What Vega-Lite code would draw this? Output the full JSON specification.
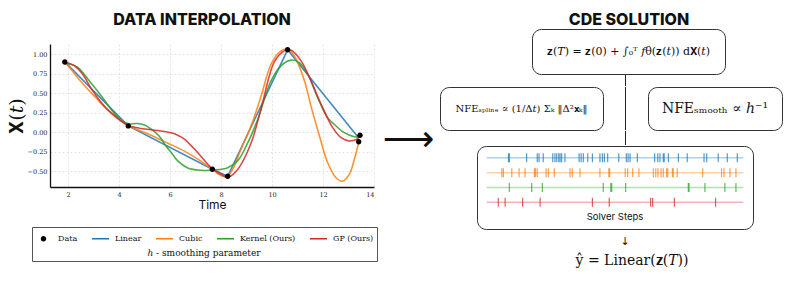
{
  "$schema": "https://vega.github.io/schema/vega-lite/v6.json",
  "background": "white",
  "padding": {"left": 7, "top": 11, "right": 0, "bottom": 0},
  "spacing": 0,
  "config": {"view": {"stroke": null}, "font": "Inter"},
  "resolve": {"scale": {"color": "independent", "shape": "independent"}, "legend": {"color": "independent", "shape": "independent"}},
  "datasets": {
    "linear": [
      {"series": "Linear", "t": 1.87, "X": 0.9},
      {"series": "Linear", "t": 4.36, "X": 0.079},
      {"series": "Linear", "t": 7.66, "X": -0.478},
      {"series": "Linear", "t": 8.26, "X": -0.568},
      {"series": "Linear", "t": 10.61, "X": 1.055},
      {"series": "Linear", "t": 13.4, "X": -0.075}
    ],
    "cubic": [
      {"series": "Cubic", "t": 1.87, "X": 0.9},
      {"series": "Cubic", "t": 2.2, "X": 0.77},
      {"series": "Cubic", "t": 2.5, "X": 0.65},
      {"series": "Cubic", "t": 3.09, "X": 0.44},
      {"series": "Cubic", "t": 3.5, "X": 0.3},
      {"series": "Cubic", "t": 3.87, "X": 0.207},
      {"series": "Cubic", "t": 4.36, "X": 0.079},
      {"series": "Cubic", "t": 4.8, "X": 0.02},
      {"series": "Cubic", "t": 5.25, "X": -0.04},
      {"series": "Cubic", "t": 5.9, "X": -0.14},
      {"series": "Cubic", "t": 6.56, "X": -0.245},
      {"series": "Cubic", "t": 7.1, "X": -0.35},
      {"series": "Cubic", "t": 7.66, "X": -0.478},
      {"series": "Cubic", "t": 7.95, "X": -0.55},
      {"series": "Cubic", "t": 8.15, "X": -0.575},
      {"series": "Cubic", "t": 8.26, "X": -0.568},
      {"series": "Cubic", "t": 8.5, "X": -0.45},
      {"series": "Cubic", "t": 8.78, "X": -0.22},
      {"series": "Cubic", "t": 9.18, "X": 0.08},
      {"series": "Cubic", "t": 9.57, "X": 0.46},
      {"series": "Cubic", "t": 9.96, "X": 0.87},
      {"series": "Cubic", "t": 10.35, "X": 1.04},
      {"series": "Cubic", "t": 10.61, "X": 1.064},
      {"series": "Cubic", "t": 10.87, "X": 0.98},
      {"series": "Cubic", "t": 11.27, "X": 0.66},
      {"series": "Cubic", "t": 11.53, "X": 0.33},
      {"series": "Cubic", "t": 11.86, "X": -0.05},
      {"series": "Cubic", "t": 12.18, "X": -0.39},
      {"series": "Cubic", "t": 12.51, "X": -0.586},
      {"series": "Cubic", "t": 12.77, "X": -0.63},
      {"series": "Cubic", "t": 13.03, "X": -0.543},
      {"series": "Cubic", "t": 13.23, "X": -0.35},
      {"series": "Cubic", "t": 13.4, "X": -0.13}
    ],
    "kernel": [
      {"series": "Kernel (Ours)", "t": 1.87, "X": 0.88},
      {"series": "Kernel (Ours)", "t": 2.1, "X": 0.87},
      {"series": "Kernel (Ours)", "t": 2.38, "X": 0.83},
      {"series": "Kernel (Ours)", "t": 2.9, "X": 0.63},
      {"series": "Kernel (Ours)", "t": 3.29, "X": 0.47},
      {"series": "Kernel (Ours)", "t": 3.69, "X": 0.29},
      {"series": "Kernel (Ours)", "t": 4.08, "X": 0.15},
      {"series": "Kernel (Ours)", "t": 4.4, "X": 0.105},
      {"series": "Kernel (Ours)", "t": 4.7, "X": 0.11},
      {"series": "Kernel (Ours)", "t": 5.0, "X": 0.09},
      {"series": "Kernel (Ours)", "t": 5.25, "X": 0.04},
      {"series": "Kernel (Ours)", "t": 5.57, "X": -0.05},
      {"series": "Kernel (Ours)", "t": 5.84, "X": -0.18},
      {"series": "Kernel (Ours)", "t": 6.04, "X": -0.26},
      {"series": "Kernel (Ours)", "t": 6.3, "X": -0.37},
      {"series": "Kernel (Ours)", "t": 6.69, "X": -0.46},
      {"series": "Kernel (Ours)", "t": 7.22, "X": -0.49},
      {"series": "Kernel (Ours)", "t": 7.75, "X": -0.487},
      {"series": "Kernel (Ours)", "t": 8.26, "X": -0.457},
      {"series": "Kernel (Ours)", "t": 8.65, "X": -0.37},
      {"series": "Kernel (Ours)", "t": 9.05, "X": -0.136},
      {"series": "Kernel (Ours)", "t": 9.44, "X": 0.165},
      {"series": "Kernel (Ours)", "t": 9.96, "X": 0.657},
      {"series": "Kernel (Ours)", "t": 10.35, "X": 0.85},
      {"series": "Kernel (Ours)", "t": 10.75, "X": 0.923},
      {"series": "Kernel (Ours)", "t": 11.07, "X": 0.892},
      {"series": "Kernel (Ours)", "t": 11.4, "X": 0.743},
      {"series": "Kernel (Ours)", "t": 11.79, "X": 0.442},
      {"series": "Kernel (Ours)", "t": 12.18, "X": 0.185},
      {"series": "Kernel (Ours)", "t": 12.44, "X": 0.1},
      {"series": "Kernel (Ours)", "t": 12.83, "X": -0.008},
      {"series": "Kernel (Ours)", "t": 13.23, "X": -0.06},
      {"series": "Kernel (Ours)", "t": 13.4, "X": -0.065}
    ],
    "gp": [
      {"series": "GP (Ours)", "t": 1.87, "X": 0.9},
      {"series": "GP (Ours)", "t": 2.25, "X": 0.85},
      {"series": "GP (Ours)", "t": 2.6, "X": 0.73},
      {"series": "GP (Ours)", "t": 2.9, "X": 0.56},
      {"series": "GP (Ours)", "t": 3.3, "X": 0.38},
      {"series": "GP (Ours)", "t": 3.7, "X": 0.24},
      {"series": "GP (Ours)", "t": 4.0, "X": 0.16},
      {"series": "GP (Ours)", "t": 4.36, "X": 0.085},
      {"series": "GP (Ours)", "t": 4.8, "X": 0.05},
      {"series": "GP (Ours)", "t": 5.25, "X": 0.03},
      {"series": "GP (Ours)", "t": 5.7, "X": 0.01},
      {"series": "GP (Ours)", "t": 6.04, "X": -0.01},
      {"series": "GP (Ours)", "t": 6.3, "X": -0.04},
      {"series": "GP (Ours)", "t": 6.56, "X": -0.09},
      {"series": "GP (Ours)", "t": 7.09, "X": -0.265},
      {"series": "GP (Ours)", "t": 7.61, "X": -0.457},
      {"series": "GP (Ours)", "t": 8.07, "X": -0.555},
      {"series": "GP (Ours)", "t": 8.29, "X": -0.577},
      {"series": "GP (Ours)", "t": 8.65, "X": -0.48},
      {"series": "GP (Ours)", "t": 9.18, "X": -0.14},
      {"series": "GP (Ours)", "t": 9.57, "X": 0.3},
      {"series": "GP (Ours)", "t": 10.09, "X": 0.9},
      {"series": "GP (Ours)", "t": 10.48, "X": 1.042},
      {"series": "GP (Ours)", "t": 10.75, "X": 1.05},
      {"series": "GP (Ours)", "t": 11.14, "X": 0.914},
      {"series": "GP (Ours)", "t": 11.53, "X": 0.657},
      {"series": "GP (Ours)", "t": 11.92, "X": 0.36},
      {"series": "GP (Ours)", "t": 12.38, "X": 0.057},
      {"series": "GP (Ours)", "t": 12.71, "X": -0.072},
      {"series": "GP (Ours)", "t": 13.03, "X": -0.114},
      {"series": "GP (Ours)", "t": 13.23, "X": -0.105},
      {"series": "GP (Ours)", "t": 13.4, "X": -0.08}
    ],
    "points": [
      {"series": "Data", "t": 1.87, "X": 0.9},
      {"series": "Data", "t": 4.36, "X": 0.079},
      {"series": "Data", "t": 7.66, "X": -0.478},
      {"series": "Data", "t": 8.26, "X": -0.568},
      {"series": "Data", "t": 10.61, "X": 1.055},
      {"series": "Data", "t": 13.45, "X": -0.04},
      {"series": "Data", "t": 13.4, "X": -0.125}
    ],
    "spans": [
      {"method": "Linear", "start": 1.87, "end": 13.45},
      {"method": "Cubic", "start": 1.87, "end": 13.45},
      {"method": "Kernel (Ours)", "start": 1.87, "end": 13.45},
      {"method": "GP (Ours)", "start": 1.87, "end": 13.45}
    ],
    "steps": [
      {"method": "Linear", "t": 2.85}, {"method": "Linear", "t": 2.89}, {"method": "Linear", "t": 3.67}, {"method": "Linear", "t": 4.15},
      {"method": "Linear", "t": 4.23}, {"method": "Linear", "t": 4.42}, {"method": "Linear", "t": 4.85}, {"method": "Linear", "t": 4.95},
      {"method": "Linear", "t": 5.03}, {"method": "Linear", "t": 5.12}, {"method": "Linear", "t": 5.18}, {"method": "Linear", "t": 5.25},
      {"method": "Linear", "t": 5.4}, {"method": "Linear", "t": 6.04}, {"method": "Linear", "t": 6.13}, {"method": "Linear", "t": 6.23},
      {"method": "Linear", "t": 6.43}, {"method": "Linear", "t": 6.64}, {"method": "Linear", "t": 6.98}, {"method": "Linear", "t": 7.09},
      {"method": "Linear", "t": 7.18}, {"method": "Linear", "t": 7.33}, {"method": "Linear", "t": 7.83}, {"method": "Linear", "t": 8.17},
      {"method": "Linear", "t": 8.25}, {"method": "Linear", "t": 8.34}, {"method": "Linear", "t": 8.67}, {"method": "Linear", "t": 9.45},
      {"method": "Linear", "t": 9.59}, {"method": "Linear", "t": 9.69}, {"method": "Linear", "t": 9.84}, {"method": "Linear", "t": 9.88},
      {"method": "Linear", "t": 10.07}, {"method": "Linear", "t": 10.52}, {"method": "Linear", "t": 10.92}, {"method": "Linear", "t": 11.68},
      {"method": "Linear", "t": 11.8}, {"method": "Linear", "t": 12.32}, {"method": "Linear", "t": 12.73}, {"method": "Linear", "t": 13.18},
      {"method": "Cubic", "t": 2.55}, {"method": "Cubic", "t": 2.62}, {"method": "Cubic", "t": 3.0}, {"method": "Cubic", "t": 3.33},
      {"method": "Cubic", "t": 3.6}, {"method": "Cubic", "t": 4.02}, {"method": "Cubic", "t": 4.07}, {"method": "Cubic", "t": 4.15},
      {"method": "Cubic", "t": 4.55}, {"method": "Cubic", "t": 4.65}, {"method": "Cubic", "t": 4.92}, {"method": "Cubic", "t": 5.63},
      {"method": "Cubic", "t": 5.73}, {"method": "Cubic", "t": 6.08}, {"method": "Cubic", "t": 6.98}, {"method": "Cubic", "t": 7.38},
      {"method": "Cubic", "t": 7.42}, {"method": "Cubic", "t": 8.12}, {"method": "Cubic", "t": 8.23}, {"method": "Cubic", "t": 8.46},
      {"method": "Cubic", "t": 8.74}, {"method": "Cubic", "t": 9.39}, {"method": "Cubic", "t": 9.5}, {"method": "Cubic", "t": 9.6},
      {"method": "Cubic", "t": 9.74}, {"method": "Cubic", "t": 9.84}, {"method": "Cubic", "t": 9.99}, {"method": "Cubic", "t": 10.04},
      {"method": "Cubic", "t": 10.25}, {"method": "Cubic", "t": 10.29}, {"method": "Cubic", "t": 10.47}, {"method": "Cubic", "t": 11.62},
      {"method": "Cubic", "t": 12.47}, {"method": "Cubic", "t": 12.58}, {"method": "Cubic", "t": 12.85}, {"method": "Cubic", "t": 13.12},
      {"method": "Kernel (Ours)", "t": 2.89}, {"method": "Kernel (Ours)", "t": 3.9}, {"method": "Kernel (Ours)", "t": 4.38},
      {"method": "Kernel (Ours)", "t": 7.13}, {"method": "Kernel (Ours)", "t": 7.47}, {"method": "Kernel (Ours)", "t": 7.51},
      {"method": "Kernel (Ours)", "t": 8.14}, {"method": "Kernel (Ours)", "t": 10.97}, {"method": "Kernel (Ours)", "t": 11.0},
      {"method": "Kernel (Ours)", "t": 11.72}, {"method": "Kernel (Ours)", "t": 12.62}, {"method": "Kernel (Ours)", "t": 13.12},
      {"method": "GP (Ours)", "t": 2.39}, {"method": "GP (Ours)", "t": 2.7}, {"method": "GP (Ours)", "t": 3.49}, {"method": "GP (Ours)", "t": 4.28},
      {"method": "GP (Ours)", "t": 6.64}, {"method": "GP (Ours)", "t": 7.4}, {"method": "GP (Ours)", "t": 9.27}, {"method": "GP (Ours)", "t": 9.36},
      {"method": "GP (Ours)", "t": 10.34}, {"method": "GP (Ours)", "t": 12.2}
    ]
  },
  "hconcat": [
    {
      "spacing": 16,
      "vconcat": [
        {"width": 304, "height": 15, "data": {"values": [{"s": "DATA INTERPOLATION"}]},
          "mark": {"type": "text", "font": "Inter", "fontSize": 16, "fontWeight": 800, "color": "#111"},
          "encoding": {"text": {"field": "s"}}},
        {
          "width": 324,
          "height": 143,
          "encoding": {
            "x": {"field": "t", "type": "quantitative", "scale": {"domain": [1.29, 14], "nice": false, "zero": false},
              "axis": {"values": [2, 4, 6, 8, 10, 12, 14], "title": "Time", "grid": true, "gridDash": [2, 2], "gridColor": "#e4e4e4", "domainColor": "#111", "domainWidth": 1.3, "ticks": false, "labelFont": "DejaVu Serif", "labelFontSize": 6.5, "labelColor": "#222", "labelPadding": 4, "titleFont": "Inter", "titleFontSize": 12, "titleFontWeight": "normal", "titleColor": "#111", "titlePadding": 2}},
            "y": {"field": "X", "type": "quantitative", "scale": {"domain": [-0.705, 1.13], "nice": false, "zero": false},
              "axis": {"values": [-0.5, -0.25, 0, 0.25, 0.5, 0.75, 1], "format": ".2f", "title": "𝐗(𝑡)", "grid": true, "gridDash": [2, 2], "gridColor": "#e4e4e4", "domainColor": "#111", "domainWidth": 1.3, "ticks": false, "labelFont": "DejaVu Serif", "labelFontSize": 6.5, "labelColor": "#222", "labelPadding": 3, "titleFont": "DejaVu Serif", "titleFontSize": 19, "titleFontWeight": "normal", "titleColor": "#111", "titlePadding": 1}}
          },
          "layer": [
            {"data": {"name": "linear"}, "mark": {"type": "line", "strokeWidth": 1.6, "opacity": 0.85, "color": "#1f77b4"}},
            {"data": {"name": "cubic"}, "mark": {"type": "line", "interpolate": "catmull-rom", "strokeWidth": 1.6, "opacity": 0.85, "color": "#ff7f0e"}},
            {"data": {"name": "kernel"}, "mark": {"type": "line", "interpolate": "catmull-rom", "strokeWidth": 1.6, "opacity": 0.85, "color": "#2ca02c"}},
            {"data": {"name": "gp"}, "mark": {"type": "line", "interpolate": "catmull-rom", "strokeWidth": 1.6, "opacity": 0.85, "color": "#d62728"}},
            {
              "data": {"name": "points"},
              "mark": {"type": "point", "filled": true, "size": 289, "opacity": 1},
              "encoding": {
                "color": {"field": "series", "type": "nominal", "scale": {"domain": ["Data", "Linear", "Cubic", "Kernel (Ours)", "GP (Ours)"], "range": ["#000000", "#1f77b4", "#ff7f0e", "#2ca02c", "#d62728"]},
                  "legend": {"orient": "none", "legendX": -18, "legendY": 215, "direction": "horizontal", "title": "ℎ - smoothing parameter", "titleOrient": "bottom", "titleAnchor": "middle", "titleFont": "DejaVu Serif", "titleFontSize": 9, "titleFontWeight": "normal", "titleColor": "#111", "titlePadding": 6, "labelFont": "DejaVu Serif", "labelFontSize": 8, "labelColor": "#111", "labelOffset": 6, "columnPadding": 14, "symbolSize": 289, "symbolStrokeWidth": 0, "padding": 3, "strokeColor": "#555", "fillColor": "white", "cornerRadius": 0}},
                "shape": {"field": "series", "type": "nominal", "scale": {"domain": ["Data", "Linear", "Cubic", "Kernel (Ours)", "GP (Ours)"], "range": ["M0.32,0A0.32,0.32 0 1,1 -0.32,0A0.32,0.32 0 1,1 0.32,0Z", "M-1,-0.09H1V0.09H-1Z", "M-1,-0.09H1V0.09H-1Z", "M-1,-0.09H1V0.09H-1Z", "M-1,-0.09H1V0.09H-1Z"]},
                  "legend": {"orient": "none", "legendX": -18, "legendY": 215, "direction": "horizontal", "title": "ℎ - smoothing parameter", "titleOrient": "bottom", "titleAnchor": "middle", "titleFont": "DejaVu Serif", "titleFontSize": 9, "titleFontWeight": "normal", "titleColor": "#111", "titlePadding": 6, "labelFont": "DejaVu Serif", "labelFontSize": 8, "labelColor": "#111", "labelOffset": 6, "columnPadding": 14, "symbolSize": 289, "symbolStrokeWidth": 0, "padding": 3, "strokeColor": "#555", "fillColor": "white", "cornerRadius": 0}}
              }
            }
          ]
        }
      ]
    },
    {
      "width": 61,
      "height": 256,
      "data": {"values": [{"s": "⟶"}]},
      "mark": {"type": "text", "font": "DejaVu Sans", "fontSize": 36, "color": "#111"},
      "encoding": {"text": {"field": "s"}}
    },
    {
      "spacing": 0,
      "vconcat": [
        {"spacing": 0, "hconcat": [
          {"width": 128, "height": 1, "data": {"values": []}, "mark": "point"},
          {"width": 120, "height": 15, "data": {"values": [{"s": "CDE SOLUTION"}]},
            "mark": {"type": "text", "font": "Inter", "fontSize": 16, "fontWeight": 800, "color": "#111"},
            "encoding": {"text": {"field": "s"}}}
        ]},
        {"spacing": 0, "hconcat": [
          {"width": 91, "height": 1, "data": {"values": []}, "mark": "point"},
          {"width": 193, "height": 45, "view": {"stroke": "#333", "strokeWidth": 1, "cornerRadius": 9},
            "data": {"values": [{"f": "𝐳(𝑇) = 𝐳(0) + ∫₀ᵀ 𝑓θ(𝐳(𝑡)) d𝐗(𝑡)"}]},
            "mark": {"type": "text", "font": "DejaVu Serif", "fontSize": 11, "color": "#111"},
            "encoding": {"text": {"field": "f"}}}
        ]},
        {"spacing": 0, "hconcat": [
          {"width": 185, "height": 1, "data": {"values": []}, "mark": "point"},
          {"width": 1, "height": 11, "view": {"fill": "#222"}, "data": {"values": []}, "mark": "point"}
        ]},
        {"spacing": 0, "hconcat": [
          {"width": 163, "height": 43, "view": {"stroke": "#333", "strokeWidth": 1, "cornerRadius": 9},
            "data": {"values": [{"f": "NFEₛₚₗᵢₙₑ ∝ (1/Δ𝑡) Σₖ ‖Δ²𝐱ₖ‖"}]},
            "mark": {"type": "text", "font": "DejaVu Serif", "fontSize": 10, "color": "#111"},
            "encoding": {"text": {"field": "f"}}},
          {"width": 21, "height": 1, "data": {"values": []}, "mark": "point"},
          {"width": 1, "height": 43, "view": {"fill": "#222"}, "data": {"values": []}, "mark": "point"},
          {"width": 21, "height": 1, "data": {"values": []}, "mark": "point"},
          {"width": 134, "height": 43, "view": {"stroke": "#333", "strokeWidth": 1, "cornerRadius": 9},
            "data": {"values": [{"f": "NFEₛₘₒₒₜₕ ∝ ℎ⁻¹"}]},
            "mark": {"type": "text", "font": "DejaVu Serif", "fontSize": 14, "color": "#111"},
            "encoding": {"text": {"field": "f"}}}
        ]},
        {"spacing": 0, "hconcat": [
          {"width": 185, "height": 1, "data": {"values": []}, "mark": "point"},
          {"width": 1, "height": 14, "view": {"fill": "#222"}, "data": {"values": []}, "mark": "point"}
        ]},
        {"spacing": 0, "hconcat": [
          {"width": 36, "height": 1, "data": {"values": []}, "mark": "point"},
          {"width": 276, "height": 83, "view": {"stroke": "#333", "strokeWidth": 1, "cornerRadius": 9},
            "layer": [
              {"data": {"name": "spans"},
                "mark": {"type": "rule", "strokeWidth": 1.5, "opacity": 0.35},
                "encoding": {
                  "x": {"field": "start", "type": "quantitative", "scale": {"domain": [1.43, 13.89], "nice": false, "zero": false}, "axis": null},
                  "x2": {"field": "end"},
                  "y": {"field": "method", "type": "nominal", "scale": {"type": "point", "domain": ["Linear", "Cubic", "Kernel (Ours)", "GP (Ours)", "Solver Steps"], "padding": 0.8}, "axis": null},
                  "color": {"field": "method", "type": "nominal", "scale": {"domain": ["Linear", "Cubic", "Kernel (Ours)", "GP (Ours)"], "range": ["#1f77b4", "#ff7f0e", "#2ca02c", "#d62728"]}, "legend": null}
                }},
              {"data": {"name": "steps"},
                "mark": {"type": "tick", "thickness": 1.2, "size": 9, "opacity": 0.75},
                "encoding": {
                  "x": {"field": "t", "type": "quantitative", "scale": {"domain": [1.43, 13.89], "nice": false, "zero": false}, "axis": null},
                  "y": {"field": "method", "type": "nominal", "scale": {"type": "point", "domain": ["Linear", "Cubic", "Kernel (Ours)", "GP (Ours)", "Solver Steps"], "padding": 0.8}, "axis": null},
                  "color": {"field": "method", "type": "nominal", "scale": {"domain": ["Linear", "Cubic", "Kernel (Ours)", "GP (Ours)"], "range": ["#1f77b4", "#ff7f0e", "#2ca02c", "#d62728"]}, "legend": null}
                }},
              {"data": {"values": [{"method": "Solver Steps"}]},
                "mark": {"type": "text", "font": "Inter", "fontSize": 9.5, "color": "#111"},
                "encoding": {
                  "y": {"field": "method", "type": "nominal", "scale": {"type": "point", "domain": ["Linear", "Cubic", "Kernel (Ours)", "GP (Ours)", "Solver Steps"], "padding": 0.8}, "axis": null},
                  "text": {"field": "method"}
                }}
            ]}
        ]},
        {"spacing": 0, "hconcat": [
          {"width": 135, "height": 1, "data": {"values": []}, "mark": "point"},
          {"width": 100, "height": 24, "data": {"values": [{"s": "↓"}]}, "mark": {"type": "text", "font": "DejaVu Sans", "fontSize": 11, "color": "#111"}, "encoding": {"text": {"field": "s"}}}
        ]},
        {"spacing": 0, "hconcat": [
          {"width": 135, "height": 1, "data": {"values": []}, "mark": "point"},
          {"width": 100, "height": 12, "data": {"values": [{"s": "ŷ = Linear(𝐳(𝑇))"}]}, "mark": {"type": "text", "font": "DejaVu Serif", "fontSize": 14, "color": "#111"}, "encoding": {"text": {"field": "s"}}}
        ]}
      ]
    }
  ]
}
